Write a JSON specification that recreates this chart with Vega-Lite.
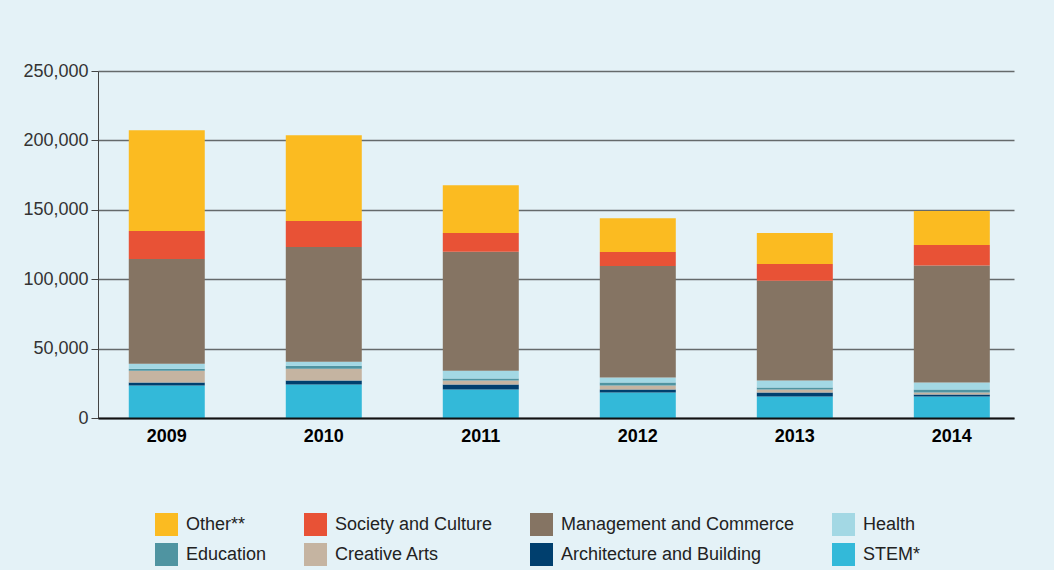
{
  "$schema": "https://vega.github.io/schema/vega-lite/v6.json",
  "width": 916,
  "height": 347,
  "autosize": {"type": "none"},
  "padding": {"left": 98, "top": 71, "right": 40, "bottom": 152},
  "background": "#e4f2f7",
  "config": {"view": {"stroke": null}, "font": "Liberation Sans"},
  "data": {"values": [
    {"year": "2009", "category": "STEM*", "rank": 1, "value": 23350},
    {"year": "2009", "category": "Architecture and Building", "rank": 2, "value": 2150},
    {"year": "2009", "category": "Creative Arts", "rank": 3, "value": 8620},
    {"year": "2009", "category": "Education", "rank": 4, "value": 1440},
    {"year": "2009", "category": "Health", "rank": 5, "value": 3590},
    {"year": "2009", "category": "Management and Commerce", "rank": 6, "value": 75450},
    {"year": "2009", "category": "Society and Culture", "rank": 7, "value": 20100},
    {"year": "2009", "category": "Other**", "rank": 8, "value": 72560},
    {"year": "2010", "category": "STEM*", "rank": 1, "value": 24070},
    {"year": "2010", "category": "Architecture and Building", "rank": 2, "value": 2870},
    {"year": "2010", "category": "Creative Arts", "rank": 3, "value": 8620},
    {"year": "2010", "category": "Education", "rank": 4, "value": 2160},
    {"year": "2010", "category": "Health", "rank": 5, "value": 2870},
    {"year": "2010", "category": "Management and Commerce", "rank": 6, "value": 82610},
    {"year": "2010", "category": "Society and Culture", "rank": 7, "value": 18700},
    {"year": "2010", "category": "Other**", "rank": 8, "value": 61800},
    {"year": "2011", "category": "STEM*", "rank": 1, "value": 20470},
    {"year": "2011", "category": "Architecture and Building", "rank": 2, "value": 3600},
    {"year": "2011", "category": "Creative Arts", "rank": 3, "value": 2870},
    {"year": "2011", "category": "Education", "rank": 4, "value": 1440},
    {"year": "2011", "category": "Health", "rank": 5, "value": 5740},
    {"year": "2011", "category": "Management and Commerce", "rank": 6, "value": 85680},
    {"year": "2011", "category": "Society and Culture", "rank": 7, "value": 13500},
    {"year": "2011", "category": "Other**", "rank": 8, "value": 34400},
    {"year": "2012", "category": "STEM*", "rank": 1, "value": 18320},
    {"year": "2012", "category": "Architecture and Building", "rank": 2, "value": 2150},
    {"year": "2012", "category": "Creative Arts", "rank": 3, "value": 2880},
    {"year": "2012", "category": "Education", "rank": 4, "value": 2150},
    {"year": "2012", "category": "Health", "rank": 5, "value": 3600},
    {"year": "2012", "category": "Management and Commerce", "rank": 6, "value": 80500},
    {"year": "2012", "category": "Society and Culture", "rank": 7, "value": 10000},
    {"year": "2012", "category": "Other**", "rank": 8, "value": 24400},
    {"year": "2013", "category": "STEM*", "rank": 1, "value": 15450},
    {"year": "2013", "category": "Architecture and Building", "rank": 2, "value": 2870},
    {"year": "2013", "category": "Creative Arts", "rank": 3, "value": 2150},
    {"year": "2013", "category": "Education", "rank": 4, "value": 1440},
    {"year": "2013", "category": "Health", "rank": 5, "value": 5030},
    {"year": "2013", "category": "Management and Commerce", "rank": 6, "value": 71860},
    {"year": "2013", "category": "Society and Culture", "rank": 7, "value": 12200},
    {"year": "2013", "category": "Other**", "rank": 8, "value": 22300},
    {"year": "2014", "category": "STEM*", "rank": 1, "value": 15450},
    {"year": "2014", "category": "Architecture and Building", "rank": 2, "value": 1430},
    {"year": "2014", "category": "Creative Arts", "rank": 3, "value": 1440},
    {"year": "2014", "category": "Education", "rank": 4, "value": 2150},
    {"year": "2014", "category": "Health", "rank": 5, "value": 5030},
    {"year": "2014", "category": "Management and Commerce", "rank": 6, "value": 84300},
    {"year": "2014", "category": "Society and Culture", "rank": 7, "value": 14800},
    {"year": "2014", "category": "Other**", "rank": 8, "value": 24500}
  ]},
  "mark": {"type": "bar"},
  "encoding": {
    "x": {
      "field": "year", "type": "ordinal",
      "scale": {"paddingInner": 0.516, "paddingOuter": 0.175, "align": 0.56},
      "axis": {"title": null, "labelAngle": 0, "ticks": false, "labelFontSize": 18, "labelFontWeight": "bold", "labelColor": "#000000", "domainColor": "#111111", "domainWidth": 2, "labelPadding": 9, "zindex": 1}
    },
    "y": {
      "field": "value", "type": "quantitative", "stack": "zero",
      "scale": {"domain": [0, 250000], "nice": false},
      "axis": {"title": null, "values": [0, 50000, 100000, 150000, 200000, 250000], "format": ",.0f", "labelFontSize": 18, "labelColor": "#333333", "tickSize": 7, "tickColor": "#444444", "domainColor": "#444444", "gridColor": "#656a6b", "gridWidth": 1.5, "labelPadding": 3}
    },
    "color": {
      "field": "category", "type": "nominal",
      "scale": {
        "domain": ["Other**", "Society and Culture", "Management and Commerce", "Health", "Education", "Creative Arts", "Architecture and Building", "STEM*"],
        "range": ["#fbbb21", "#e85236", "#857463", "#a3d8e4", "#4f94a1", "#c5b4a1", "#003f6e", "#33b9d9"]
      },
      "legend": {"orient": "none", "legendX": 57, "legendY": 442, "direction": "horizontal", "columns": 4, "title": null, "symbolType": "square", "symbolSize": 529, "symbolStrokeWidth": 0, "symbolOpacity": 1, "labelFontSize": 18, "labelColor": "#222222", "labelOffset": 8, "columnPadding": 37, "rowPadding": 7, "padding": 0, "labelLimit": 400}
    },
    "order": {"field": "rank", "type": "quantitative", "sort": "ascending"}
  }
}
